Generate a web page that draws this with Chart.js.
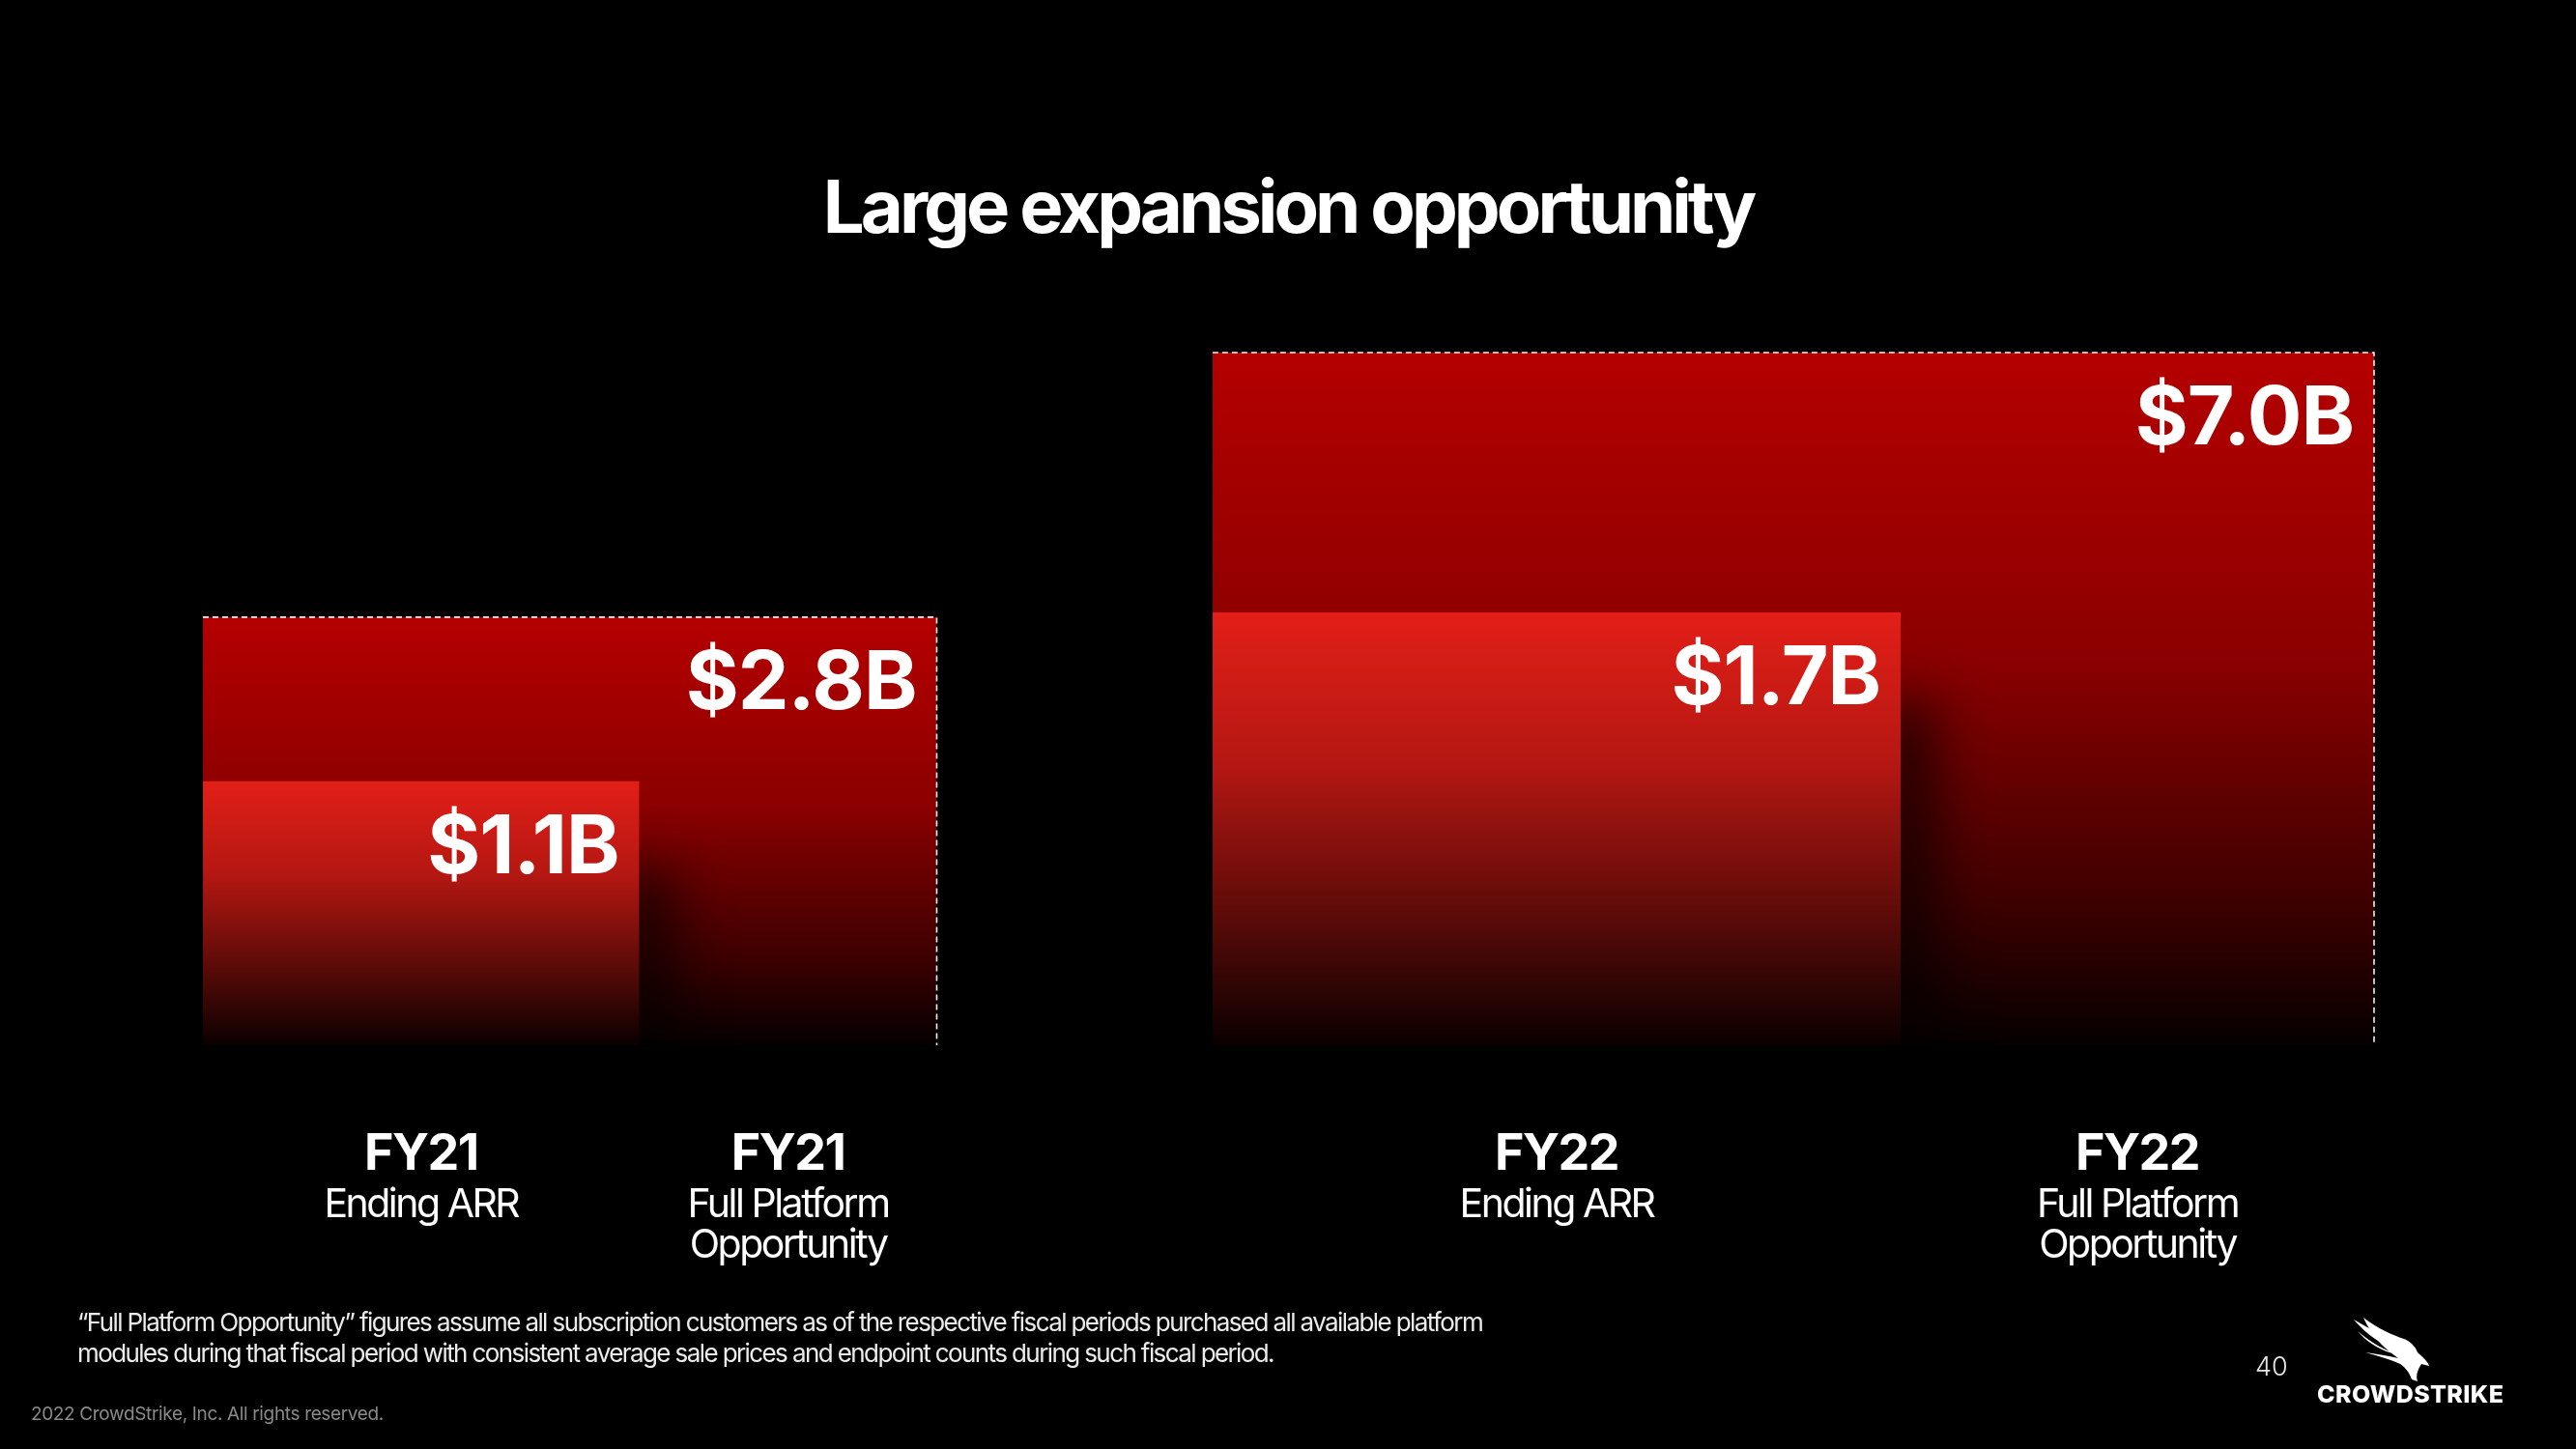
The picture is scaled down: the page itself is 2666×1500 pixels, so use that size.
<!DOCTYPE html>
<html>
<head>
<meta charset="utf-8">
<script src="https://cdn.jsdelivr.net/npm/chart.js@4.4.1/dist/chart.umd.min.js"></script>
<style>
  html, body { margin: 0; padding: 0; background: #000; }
  #slide { position: relative; width: 2666px; height: 1500px; background: #000; overflow: hidden; font-family: Inter, "Liberation Sans", sans-serif; color: #fff; }
  #c { position: absolute; left: 0; top: 0; }
  .title { position: absolute; left: 0; width: 2666px; top: 168px; text-align: center; font-size: 76px; font-weight: 700; letter-spacing: -4px; line-height: 90px; }
  .note { position: absolute; left: 80px; top: 1353px; font-size: 26px; line-height: 32px; letter-spacing: -1.6px; color: #ececec; }
  .copy { position: absolute; left: 32px; top: 1452px; font-size: 19px; letter-spacing: -0.35px; color: #8a8a8a; }
  .page { position: absolute; left: 2334px; top: 1398px; font-size: 27px; font-weight: 300; color: #e6e6e6; }
  .brand { position: absolute; left: 2398px; top: 1428px; font-size: 25px; font-weight: 800; letter-spacing: 0.4px; color: #fff; }
  #falcon { position: absolute; left: 2432px; top: 1364px; }
</style>
</head>
<body>
<div id="slide">
  <canvas id="c" width="2666" height="1500"></canvas>
  <div class="title">Large expansion opportunity</div>
  <div class="note">“Full Platform Opportunity” figures assume all subscription customers as of the respective fiscal periods purchased all available platform<br>modules during that fiscal period with consistent average sale prices and endpoint counts during such fiscal period.</div>
  <div class="copy">2022 CrowdStrike, Inc. All rights reserved.</div>
  <div class="page">40</div>
  <svg id="falcon" width="90" height="72" viewBox="0 0 90 72">
    <path d="M4 2 C20 14 34 22 46 26 C36 22 22 14 4 2 Z M4 2 C18 18 32 28 48 32 L46 26 Z" fill="#fff"/>
    <path d="M14 0 C30 12 44 18 56 22 C62 24 68 30 70 36 C74 40 80 44 82 50 L74 48 C70 54 68 60 70 66 L64 64 C62 58 58 52 52 48 C44 44 30 40 16 36 C30 38 42 40 50 42 C40 34 26 26 14 0 Z" fill="#fff"/>
    <path d="M8 14 C22 26 36 34 50 38 C36 36 20 28 8 14 Z" fill="#fff"/>
  </svg>
  <div class="brand">CROWDSTRIKE</div>
</div>
<script>
// valores do slide (em US$ bilhões) e caixas
const years = ['FY21', 'FY21', 'FY22', 'FY22'];
const metrics = [['Ending ARR'], ['Full Platform', 'Opportunity'], ['Ending ARR'], ['Full Platform', 'Opportunity']];
const kinds = ['arr', 'full', 'arr', 'full'];
const amounts = [1.1, 2.8, 1.7, 7.0];
const boxStart = [0, 0, 46.5, 46.5];
const boxEnd = [20.1, 33.8, 78.2, 100];
const boxHeight = [38.1, 61.8, 62.5, 100];

const stopsFull = [[0, '#b50000'], [0.45, '#8a0000'], [0.8, '#3c0000'], [1, '#050000']];
const stopsArr = [[0, '#e21f18'], [0.35, '#b51712'], [0.7, '#5c0b08'], [1, '#0a0000']];

function gradiente(chart, i, stops) {
  const { ctx, chartArea, scales } = chart;
  if (!chartArea) return null;
  const topo = scales.y.getPixelForValue(boxHeight[i]);
  const base = scales.y.getPixelForValue(0);
  const g = ctx.createLinearGradient(0, topo, 0, base);
  stops.forEach(s => g.addColorStop(s[0], s[1]));
  return g;
}

const datasets = years.map((yr, i) => {
  const full = kinds[i] === 'full';
  const pts = [{ x: boxStart[i], y: boxHeight[i] }, { x: boxEnd[i], y: boxHeight[i] }];
  if (full) pts.push({ x: boxEnd[i], y: 0 });
  return {
    label: yr + ' ' + metrics[i].join(' '),
    data: pts,
    fill: 'origin',
    order: full ? 2 : 1,
    backgroundColor: c => gradiente(c.chart, i, full ? stopsFull : stopsArr),
    borderColor: full ? '#f2f2f2' : 'rgba(0,0,0,0)',
    borderWidth: full ? 1.6 : 0,
    borderDash: [6, 4],
    pointRadius: 0,
    tension: 0,
    clip: false
  };
});

// sombra da caixa menor + rótulos
const decor = {
  id: 'decor',
  afterDatasetDraw(chart, args) {
    const i = args.index;
    if (kinds[i] !== 'full') return;
    const j = i - 1; // caixa ARR do mesmo ano
    const { ctx, scales } = chart;
    const xr = scales.x.getPixelForValue(boxEnd[j]);
    const yt = scales.y.getPixelForValue(boxHeight[j]);
    const yb = scales.y.getPixelForValue(0);
    ctx.save();
    ctx.filter = 'blur(28px)';
    ctx.fillStyle = 'rgba(0,0,0,0.65)';
    ctx.fillRect(xr - 30, yt + 90, 65, yb - yt - 90);
    ctx.restore();
  },
  afterDatasetsDraw(chart) {
    const { ctx, scales } = chart;
    const base = scales.y.getPixelForValue(0);
    ctx.save();
    ctx.fillStyle = '#fff';
    years.forEach((yr, i) => {
      const xr = scales.x.getPixelForValue(boxEnd[i]);
      const yt = scales.y.getPixelForValue(boxHeight[i]);
      ctx.font = '700 84px Inter, "Liberation Sans", sans-serif';
      ctx.letterSpacing = '-1px';
      ctx.textAlign = 'right';
      ctx.textBaseline = 'alphabetic';
      ctx.fillText('$' + amounts[i].toFixed(1) + 'B', xr - 21, yt + 95);

      // centro da parte visível da caixa
      const from = kinds[i] === 'full' ? boxEnd[i - 1] : boxStart[i];
      const cx = scales.x.getPixelForValue((from + boxEnd[i]) / 2);
      ctx.textAlign = 'center';
      ctx.font = '700 52px Inter, "Liberation Sans", sans-serif';
      ctx.letterSpacing = '-1.5px';
      ctx.fillText(yr, cx, base + 129);
      ctx.font = '400 41px Inter, "Liberation Sans", sans-serif';
      ctx.letterSpacing = '-2.5px';
      metrics[i].forEach((t, k) => ctx.fillText(t, cx, base + 178 + k * 42));
    });
    ctx.restore();
  }
};

new Chart(document.getElementById('c'), {
  type: 'line',
  data: { datasets },
  options: {
    responsive: false,
    animation: false,
    layout: { padding: { left: 210, right: 209, top: 365, bottom: 418 } },
    scales: {
      x: { type: 'linear', min: 0, max: 100, display: false },
      y: { min: 0, max: 100, display: false }
    },
    plugins: {
      legend: { display: false },
      tooltip: { enabled: false },
      filler: { propagate: false }
    }
  },
  plugins: [decor]
});
</script>
</body>
</html>
